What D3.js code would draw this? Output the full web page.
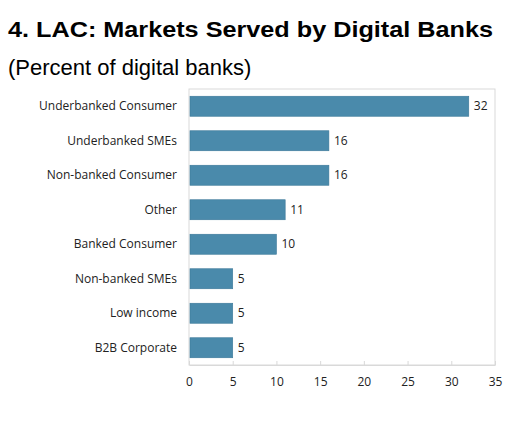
<!DOCTYPE html>
<html><head><meta charset="utf-8">
<script src="https://cdn.jsdelivr.net/npm/d3@7"></script>
<style>body{margin:0;background:#fff}</style></head>
<body><svg id="c" width="516" height="426"></svg>
<script>
const categories = ["Underbanked Consumer","Underbanked SMEs","Non-banked Consumer","Other","Banked Consumer","Non-banked SMEs","Low income","B2B Corporate"];
const values = [32,16,16,11,10,5,5,5];
const ticks = [0,5,10,15,20,25,30,35];

const svg = d3.select("#c");
svg.append("text").attr("x",8).attr("y",37).attr("font-family","'Liberation Sans', Arial").attr("font-weight","bold").attr("font-size",22).attr("textLength",485).attr("lengthAdjust","spacingAndGlyphs").text("4. LAC: Markets Served by Digital Banks");
svg.append("text").attr("x",8).attr("y",75).attr("font-family","'Liberation Sans', Arial").attr("font-size",22).text("(Percent of digital banks)");

const x = d3.scaleLinear().domain([0,35]).range([189,495]);
const y = d3.scaleBand().domain(categories).range([89,365]).paddingInner(0.42).paddingOuter(0.21);

svg.append("rect").attr("x",189).attr("y",89).attr("width",306).attr("height",276).attr("fill","none").attr("stroke","#d9d9d9");

svg.append("g").attr("transform","translate(0,365)")
  .call(d3.axisBottom(x).tickValues(ticks).tickSizeInner(-4).tickSizeOuter(0).tickPadding(12))
  .call(g=>{g.select(".domain").attr("stroke","#d9d9d9");g.selectAll("line").attr("stroke","#d9d9d9");
    g.selectAll("text").attr("font-family","'Open Sans', sans-serif").attr("font-size",12).attr("fill","#222");});

svg.append("g").attr("transform","translate(189,0)")
  .call(d3.axisLeft(y).tickSize(0).tickPadding(12))
  .call(g=>{g.select(".domain").remove();
    g.selectAll("text").attr("font-family","'Open Sans', sans-serif").attr("font-size",12).attr("fill","#222");});

svg.selectAll(".bar").data(values).join("rect")
  .attr("x",x(0)+1).attr("y",(d,i)=>y(categories[i]))
  .attr("width",d=>x(d)-x(0)-1).attr("height",y.bandwidth())
  .attr("fill","#4a8aab").attr("stroke","#3b7898").attr("stroke-width",0.6);

svg.selectAll(".lbl").data(values).join("text")
  .attr("x",d=>x(d)+5).attr("y",(d,i)=>y(categories[i])+y.bandwidth()/2+4)
  .attr("font-family","'Open Sans', sans-serif").attr("font-size",12).attr("fill","#222").text(d=>d);
</script></body></html>
